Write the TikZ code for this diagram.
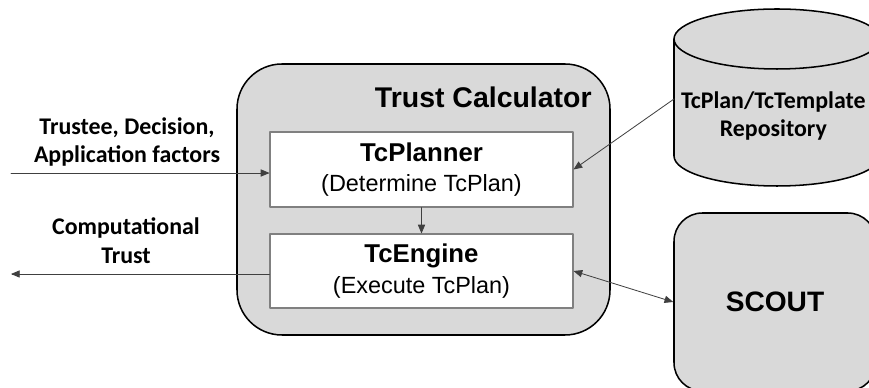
\documentclass[tikz,border=0pt]{standalone}
\usepackage{fontspec}
\setmainfont{Liberation Sans}
\newfontfamily\labelfont{Carlito}
\usetikzlibrary{arrows}
\definecolor{boxfill}{rgb}{0.85,0.85,0.85}
\definecolor{boxline}{rgb}{0.5,0.5,0.5}
\definecolor{arrline}{rgb}{0.25,0.25,0.25}
\tikzset{
	roundbox/.style={draw=black,line width=1.3pt,fill=boxfill,rounded corners=#1},
	innerbox/.style={draw=boxline,line width=0.9pt,fill=white,minimum width=9.09cm,align=center,font=\fontsize{20}{26}\selectfont},
	sidelabel/.style={font=\labelfont\fontsize{20.4}{24.5}\selectfont\bfseries,align=center},
	arrow/.style={color=arrline,line width=0.7pt}
}
\begin{document}
\begin{tikzpicture}[line cap=round,line join=round,>=triangle 45,x=1.0cm,y=1.0cm]
	\useasboundingbox (0,0) rectangle (26.07,11.64);
	\clip (0,0) rectangle (26.07,11.64);
	\node [roundbox=1.35cm,minimum width=11.19cm,minimum height=8.13cm] (calc) at (12.705,5.655) {};
	\node [font=\fontsize{24.3}{28}\selectfont\bfseries] (calctitle) at (14.5,8.72) {Trust Calculator};
	\node [innerbox,minimum height=2.25cm] (planner) at (12.645,6.555) {{\fontsize{22}{26}\selectfont\bfseries TcPlanner}\\(Determine TcPlan)};
	\node [innerbox,minimum height=2.22cm] (engine) at (12.645,3.51) {{\fontsize{22}{26}\selectfont\bfseries TcEngine}\\(Execute TcPlan)};
	% repository cylinder
	\draw [draw=black,line width=1.3pt,fill=boxfill] (20.22,10.47) arc (180:0:3.09 and 0.9) -- (26.4,6.96) arc (0:-180:3.09 and 0.9) -- cycle;
	\draw [draw=black,line width=1.3pt] (20.22,10.47) arc (180:360:3.09 and 0.9);
	\coordinate (repoleft) at (20.22,8.67);
	\node [sidelabel] (repotext) at (23.2,8.16) {TcPlan/TcTemplate\\Repository};
	\node [roundbox=0.85cm,minimum width=6.06cm,minimum height=5.34cm,font=\fontsize{24}{28}\selectfont\bfseries] (scout) at (23.25,2.58) {SCOUT};
	\node [sidelabel] (inlabel) at (3.81,7.38) {Trustee, Decision,\\Application factors};
	\node [sidelabel] (outlabel) at (3.78,4.41) {Computational\\Trust};
	\coordinate (infree) at (0.33,6.45);
	\coordinate (outfree) at (0.33,3.42);
	\draw [->,arrow] (infree) -- (planner.west |- infree);
	\draw [->,arrow] (engine.west |- outfree) -- (outfree);
	\draw [->,arrow] (planner) -- (engine);
	\draw [->,arrow] (repoleft) -- (planner.east);
	\draw [<->,arrow] (engine.east) -- (scout.west);
\end{tikzpicture}
\end{document}
